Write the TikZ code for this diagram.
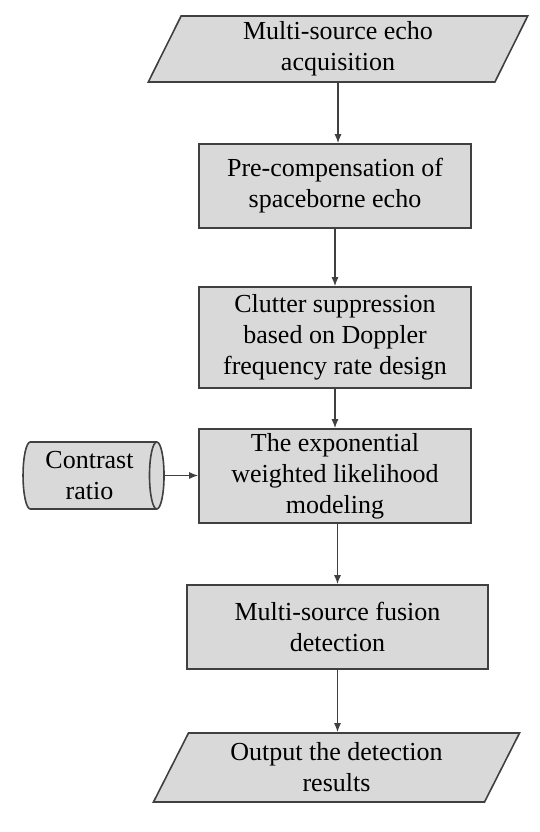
\documentclass[tikz,border=0pt]{standalone}
\usepackage{fontspec}
\setmainfont{Liberation Serif}
\usetikzlibrary{shapes.geometric}
\usetikzlibrary{arrows.meta}
\usetikzlibrary{positioning}

\definecolor{boxgray}{HTML}{D9D9D9}
\definecolor{linegray}{HTML}{404040}

\begin{document}
\begin{tikzpicture}[x=1pt, y=-1pt,
  every node/.style={font=\fontsize{26}{31}\selectfont, align=center, inner sep=0pt},
  procbox/.style={draw=linegray, line width=1.6pt, fill=boxgray, rectangle},
  iobox/.style={draw=linegray, line width=1.6pt, fill=boxgray, trapezium, trapezium stretches=true},
  storebox/.style={draw=linegray, line width=1.6pt, fill=boxgray, cylinder, shape aspect=0.3},
  flow/.style={draw=linegray, line width=1.3pt, -{Latex[length=9pt,width=7pt]}}]
\useasboundingbox (0,0) rectangle (540,832);

% main chain
\node[iobox, trapezium left angle=70, trapezium right angle=110, minimum width=380pt, minimum height=66pt] (EchoInput) at (338,49) {Multi-source echo\\acquisition};
\node[procbox, minimum width=272pt, minimum height=84pt] (PreComp) at (335,186) {Pre-compensation of\\spaceborne echo};
\node[procbox, minimum width=272pt, minimum height=101pt] (ClutterSupp) at (335,337.5) {Clutter suppression\\based on Doppler\\frequency rate design};
\node[procbox, minimum width=272pt, minimum height=94pt] (LikelihoodModel) at (335,476) {The exponential\\weighted likelihood\\modeling};
\node[procbox, minimum width=301pt, minimum height=84pt] (FusionDetect) at (337.5,627) {Multi-source fusion\\detection};
\node[iobox, trapezium left angle=63, trapezium right angle=117, minimum width=367pt, minimum height=69pt] (ResultOutput) at (336.5,767.5) {Output the detection\\results};

% side input
\node[storebox, minimum height=141pt, minimum width=67pt] (ContrastRatio) at (89.5,475.5) {Contrast\\ratio};

\draw[flow] (EchoInput.south) -- (EchoInput.south |- PreComp.north);
\draw[flow] (PreComp.south) -- (ClutterSupp.north);
\draw[flow] (ClutterSupp.south) -- (LikelihoodModel.north);
\draw[flow] (LikelihoodModel.south -| FusionDetect.north) -- (FusionDetect.north);
\draw[flow] (FusionDetect.south) -- (FusionDetect.south |- ResultOutput.north);
\draw[flow] (ContrastRatio.east) -- (ContrastRatio.east -| LikelihoodModel.west);
\end{tikzpicture}
\end{document}
